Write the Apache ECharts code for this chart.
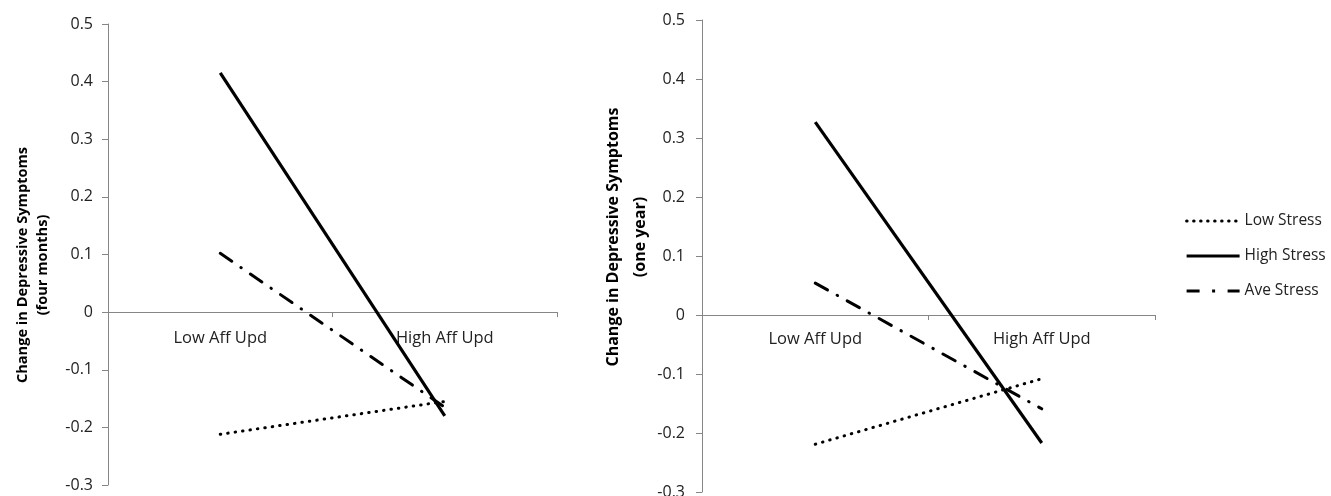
<!DOCTYPE html>
<html>
<head>
<meta charset="utf-8">
<script src="https://cdn.jsdelivr.net/npm/echarts@6/dist/echarts.min.js"></script>
<style>html,body{margin:0;padding:0;background:#fff}#c{width:1331px;height:496px}</style>
</head>
<body>
<div id="c"></div>
<script>
const categories = ['Low Aff Upd', 'High Aff Upd'];
const seriesNames = ['Low Stress', 'High Stress', 'Ave Stress'];
// Left panel: four months
const lowStress4m = [-0.212, -0.155];
const highStress4m = [0.415, -0.18];
const aveStress4m = [0.102, -0.165];
// Right panel: one year
const lowStress1y = [-0.219, -0.108];
const highStress1y = [0.327, -0.217];
const aveStress1y = [0.054, -0.159];
const yTitleLeft = ['Change in Depressive Symptoms', '(four months)'];
const yTitleRight = ['Change in Depressive Symptoms', '(one year)'];
const yMin = -0.3, yMax = 0.5, yStep = 0.1;

const FONT = '"Open Sans", sans-serif';
const axisGray = '#868686';
const styles = {
  'Low Stress': {color: '#000', width: 3, type: [0.5, 7], cap: 'round'},
  'High Stress': {color: '#000', width: 3.2, type: 'solid', cap: 'butt'},
  'Ave Stress': {color: '#000', width: 3, type: [14, 11, 0.5, 11], cap: 'round'}
};
const legendStyles = {
  'Low Stress': {color: '#000', width: 3, type: [0.5, 6.5], cap: 'round'},
  'High Stress': {color: '#000', width: 3.2, type: 'solid', cap: 'butt'},
  'Ave Stress': {color: '#000', width: 3.2, type: [13, 12.5, 3, 12.5], cap: 'butt'}
};
const grids = [
  {left: 108, top: 24, width: 449, height: 461, outerBoundsMode: 'none', containLabel: false},
  {left: 702, top: 20, width: 453, height: 472, outerBoundsMode: 'none', containLabel: false}
];

function yAxis(gridIndex, margin) {
  return {
    type: 'value', gridIndex, min: yMin, max: yMax, interval: yStep,
    axisLine: {show: true, lineStyle: {color: axisGray, width: 1}},
    axisTick: {show: true, length: 6, lineStyle: {color: axisGray}},
    splitLine: {show: false},
    axisLabel: {margin, fontFamily: FONT, fontSize: 16, color: '#222',
      formatter: v => (Math.round(v * 10) / 10).toString()}
  };
}
function xAxis(gridIndex, margin) {
  // place the category axis on the zero line of the value axis
  const zeroOffset = -grids[gridIndex].height * (0 - yMin) / (yMax - yMin);
  return {
    type: 'category', gridIndex, data: categories, boundaryGap: true,
    position: 'bottom', offset: zeroOffset,
    axisLine: {onZero: false, lineStyle: {color: axisGray, width: 1}},
    axisTick: {show: true, length: 5, lineStyle: {color: axisGray}},
    axisLabel: {margin, fontFamily: FONT, fontSize: 16.5, color: '#222'}
  };
}
function line(name, data, idx) {
  return {
    type: 'line', name, data, xAxisIndex: idx, yAxisIndex: idx,
    symbol: 'none', lineStyle: styles[name], itemStyle: {color: '#000'},
    emphasis: {disabled: true}, silent: true, animation: false
  };
}
function titleText(x, y, text, size) {
  return {type: 'text', x, y, rotation: Math.PI / 2,
    style: {text, fontFamily: FONT, fontWeight: 'bold', fontSize: size, fill: '#000',
      align: 'center', verticalAlign: 'middle'}};
}

const chart = echarts.init(document.getElementById('c'), null, {renderer: 'canvas'});
chart.setOption({
  animation: false,
  backgroundColor: '#fff',
  grid: grids,
  xAxis: [xAxis(0, 18), xAxis(1, 16)],
  yAxis: [yAxis(0, 15), yAxis(1, 17)],
  legend: {
    data: seriesNames.map(n => ({name: n, lineStyle: legendStyles[n]})),
    orient: 'vertical', left: 1180, top: 208,
    itemWidth: 53, itemHeight: 14, itemGap: 19,
    itemStyle: {opacity: 0},
    textStyle: {fontFamily: FONT, fontSize: 15.5, color: '#222'},
    selectedMode: false
  },
  series: [
    line('Low Stress', lowStress4m, 0),
    line('High Stress', highStress4m, 0),
    line('Ave Stress', aveStress4m, 0),
    line('Low Stress', lowStress1y, 1),
    line('High Stress', highStress1y, 1),
    line('Ave Stress', aveStress1y, 1)
  ],
  graphic: [
    titleText(23, 265, yTitleLeft[0], 14.6),
    titleText(43, 265, yTitleLeft[1], 14.6),
    titleText(613, 237, yTitleRight[0], 16),
    titleText(640, 237, yTitleRight[1], 16)
  ]
});
</script>
</body>
</html>
